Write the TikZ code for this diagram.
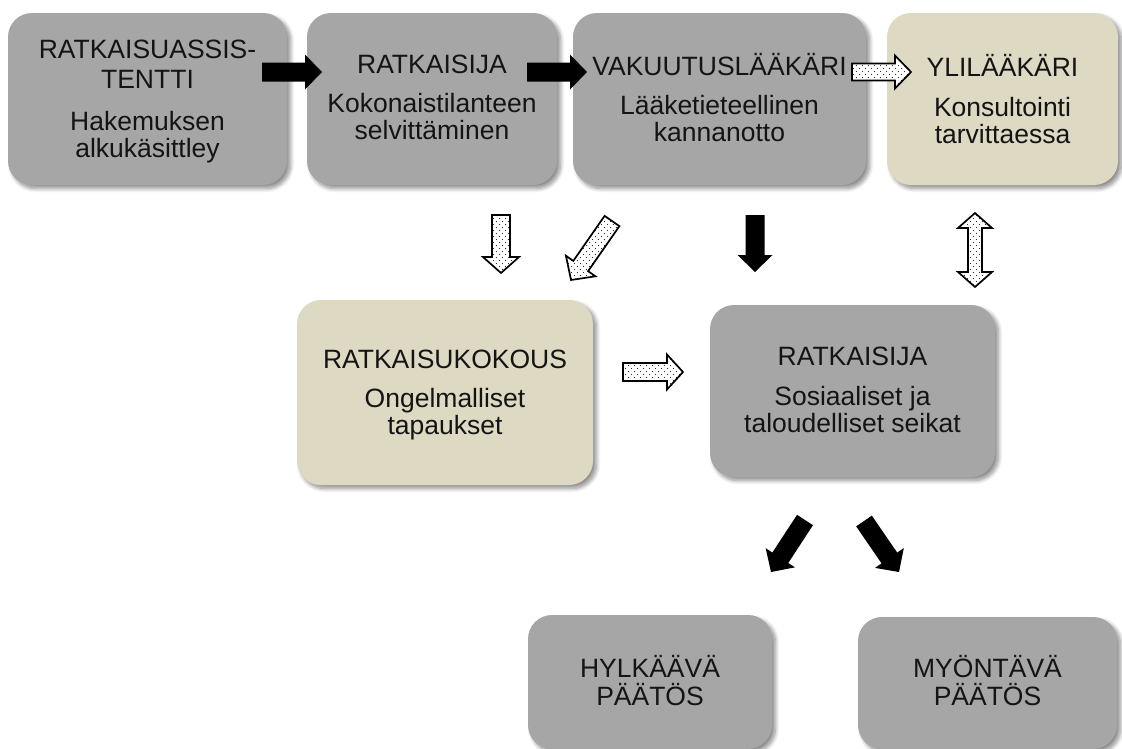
\documentclass[tikz,border=0pt]{standalone}
\usepackage{fontspec}
\setmainfont{Liberation Sans}
\usetikzlibrary{calc,shadows.blur,patterns.meta}
\definecolor{boxgray}{HTML}{A6A6A6}
\definecolor{boxbeige}{HTML}{DDD9C3}
\tikzdeclarepattern{
  name=sdots,
  type=uncolored,
  bounding box={(-0.5pt,-0.5pt) and (6.5pt,6.5pt)},
  tile size={(6pt,6pt)},
  code={\fill (1.5pt,1.5pt) circle (0.7pt); \fill (4.5pt,4.5pt) circle (0.7pt);}
}
% block arrow from #2 to #3: #1 style, #4 shaft half, #5 head half, #6 head length
\newcommand\blockarrow[6]{%
  \path[#1] let \p1=(#2), \p2=(#3), \n1={atan2(\y2-\y1,\x2-\x1)}, \n2={veclen(\x2-\x1,\y2-\y1)} in
    [shift={(\p1)}, rotate=\n1]
    (0,-#4) -- (\n2-#6,-#4) -- (\n2-#6,-#5) -- (\n2,0) -- (\n2-#6,#5) -- (\n2-#6,#4) -- (0,#4) -- cycle;
}
\newcommand\dblockarrow[6]{%
  \path[#1] let \p1=(#2), \p2=(#3), \n1={atan2(\y2-\y1,\x2-\x1)}, \n2={veclen(\x2-\x1,\y2-\y1)} in
    [shift={(\p1)}, rotate=\n1]
    (#6,-#4) -- (\n2-#6,-#4) -- (\n2-#6,-#5) -- (\n2,0) -- (\n2-#6,#5) -- (\n2-#6,#4) -- (#6,#4) -- (#6,#5) -- (0,0) -- (#6,-#5) -- cycle;
}
\begin{document}
\begin{tikzpicture}[x=1pt,y=-1pt,
  box/.style={rectangle, rounded corners=24pt, inner sep=0pt,
    blur shadow={shadow xshift=3.5pt, shadow yshift=-3.5pt, shadow blur radius=4pt, shadow blur steps=8, shadow opacity=45}},
  gbox/.style={box, fill=boxgray},
  bbox/.style={box, fill=boxbeige},
  txt/.style={anchor=north, inner sep=0pt, align=center, font=\fontsize{26.5}{27}\selectfont, text=black!92},
  solidarrow/.style={fill=black},
  dotarrow/.style={draw=black, line width=1.7pt, line join=miter, preaction={fill=white}, pattern=sdots, pattern color=black!80}
]
\useasboundingbox (0,0) rectangle (1122,748);

% boxes
\node[gbox, minimum width=279pt, minimum height=172pt] (b1) at (147.5,99) {};
\node[gbox, minimum width=250pt, minimum height=172pt] (b2) at (432,99) {};
\node[gbox, minimum width=293pt, minimum height=172pt] (b3) at (719.5,99) {};
\node[bbox, minimum width=231pt, minimum height=172pt] (b4) at (1002.5,99) {};
\node[bbox, minimum width=296pt, minimum height=185pt] (m1) at (445,392.5) {};
\node[gbox, minimum width=285pt, minimum height=172pt] (m2) at (852.5,391) {};
\node[gbox, minimum width=244pt, minimum height=134pt] (d1) at (650,682) {};
\node[gbox, minimum width=259pt, minimum height=132pt] (d2) at (987.5,683) {};

% texts
\node[txt] (t1) at (147.5,38) {\rule{0pt}{20pt}RATKAISUASSIS-\\[3pt]TENTTI\\[15pt]Hakemuksen\\alkukäsittley};
\node[txt] (t2) at (432,53) {\rule{0pt}{20pt}RATKAISIJA\\[12pt]Kokonaistilanteen\\selvittäminen};
\node[txt] (t3) at (719.5,53) {\rule{0pt}{20pt}VAKUUTUSLÄÄKÄRI\\[12pt]Lääketieteellinen\\kannanotto};
\node[txt] (t4) at (1002.5,54) {\rule{0pt}{20pt}YLILÄÄKÄRI\\[13pt]Konsultointi\\tarvittaessa};
\node[txt] (tm1) at (445,348) {\rule{0pt}{20pt}RATKAISUKOKOUS\\[12pt]Ongelmalliset\\tapaukset};
\node[txt] (tm2) at (852.5,345) {\rule{0pt}{20pt}RATKAISIJA\\[13pt]Sosiaaliset ja\\taloudelliset seikat};
\node[txt] (td1) at (650,655) {\rule{0pt}{20pt}HYLKÄÄVÄ\\[1pt]PÄÄTÖS};
\node[txt] (td2) at (987.5,655) {\rule{0pt}{20pt}MYÖNTÄVÄ\\[1pt]PÄÄTÖS};

% arrow end points
\coordinate (a12s) at (262,72);  \coordinate (a12e) at (322,72);
\coordinate (a23s) at (527,72);  \coordinate (a23e) at (587,72);
\coordinate (a34s) at (852,72);  \coordinate (a34e) at (911,72);
\coordinate (ads) at (501,215);  \coordinate (ade) at (501,273);
\coordinate (ags) at (612,221);  \coordinate (age) at (571,280);
\coordinate (abs) at (755,215);  \coordinate (abe) at (755,272);
\coordinate (avs) at (975,213);  \coordinate (ave) at (975,287);
\coordinate (ams) at (623,372);  \coordinate (ame) at (683,372);
\coordinate (als) at (805,520);  \coordinate (ale) at (771,572);
\coordinate (ars) at (864,521);  \coordinate (are) at (899,572);

% arrows
\blockarrow{solidarrow}{a12s}{a12e}{9.5}{17.5}{17}
\blockarrow{solidarrow}{a23s}{a23e}{9.5}{17.5}{17}
\blockarrow{dotarrow}{a34s}{a34e}{8.5}{16.5}{16}
\blockarrow{dotarrow}{ads}{ade}{9}{18}{16}
\blockarrow{dotarrow}{ags}{age}{9}{18}{17}
\blockarrow{solidarrow}{abs}{abe}{9.5}{17.5}{17}
\dblockarrow{dotarrow}{avs}{ave}{7}{17}{15}
\blockarrow{dotarrow}{ams}{ame}{9}{17.5}{16}
\blockarrow{solidarrow}{als}{ale}{9.5}{17.5}{17}
\blockarrow{solidarrow}{ars}{are}{9.5}{17.5}{17}
\end{tikzpicture}
\end{document}
